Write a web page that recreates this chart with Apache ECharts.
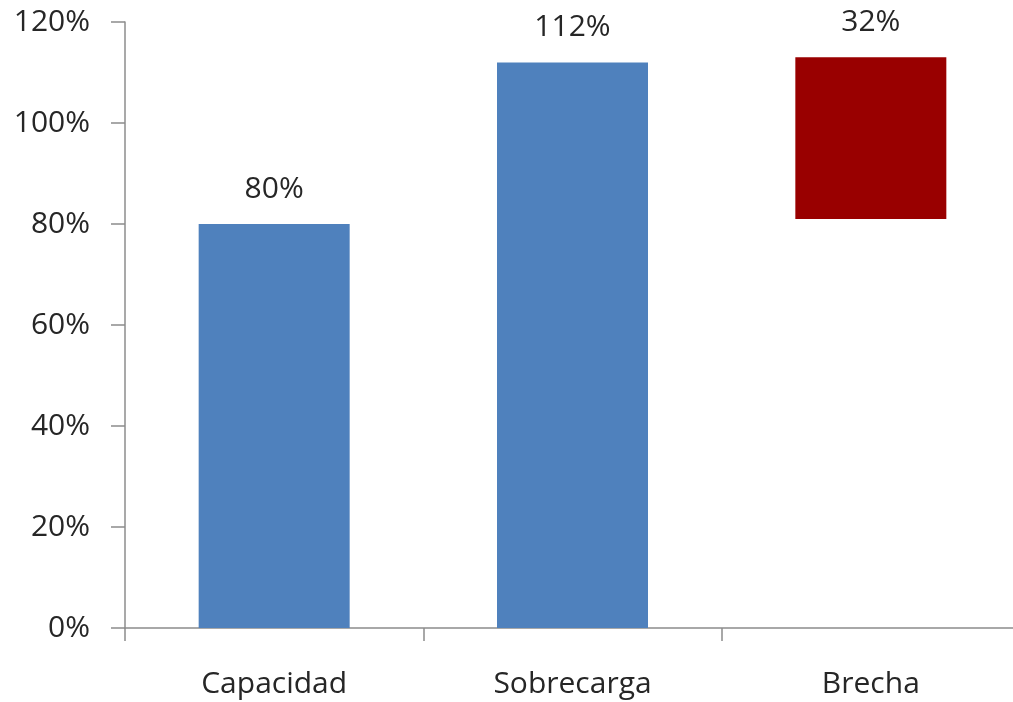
<!DOCTYPE html>
<html>
<head>
<meta charset="utf-8">
<script src="https://cdn.jsdelivr.net/npm/echarts@6/dist/echarts.min.js"></script>
<style>
  html, body { margin: 0; padding: 0; background: #fff; overflow: hidden; }
  /* the last category runs slightly past the right edge of the window */
  #chart { width: 1020px; height: 702px; }
</style>
</head>
<body>
<div id="chart"></div>
<script>
// Categories and values (percent)
const categories = ['Capacidad', 'Sobrecarga', 'Brecha'];
const barValues = [80, 112, 32];
// Invisible offset so the gap bar floats above the capacity level
const baseValues = [0, 0, 81];
const barColors = ['#4F81BD', '#4F81BD', '#990000'];
const yTicks = { min: 0, max: 120, interval: 20 };

const textColor = '#262626';
const fontFamily = '"Open Sans", "Noto Sans", sans-serif';
const axisColor = '#8c8c8c';

const chart = echarts.init(document.getElementById('chart'), null, { renderer: 'canvas' });

chart.setOption({
  animation: false,
  backgroundColor: '#fff',
  grid: { left: 125, top: 22, bottom: 74, right: 0, containLabel: false },
  xAxis: {
    type: 'category',
    data: categories,
    axisLine: { lineStyle: { color: axisColor, width: 1.5 } },
    axisTick: { show: true, length: 13, lineStyle: { color: axisColor, width: 1.5 } },
    axisLabel: { color: textColor, fontSize: 30, fontFamily: fontFamily, margin: 41 }
  },
  yAxis: {
    type: 'value',
    min: yTicks.min,
    max: yTicks.max,
    interval: yTicks.interval,
    splitLine: { show: false },
    axisLine: { show: true, lineStyle: { color: axisColor, width: 1.5 } },
    axisTick: { show: true, length: 14, lineStyle: { color: axisColor, width: 1.5 } },
    axisLabel: {
      color: textColor, fontSize: 30, fontFamily: fontFamily, margin: 35,
      formatter: v => v + '%'
    }
  },
  series: [
    {
      name: 'base',
      type: 'bar',
      stack: 'total',
      data: baseValues,
      barWidth: 151,
      itemStyle: { color: 'transparent' },
      silent: true
    },
    {
      name: 'valor',
      type: 'bar',
      stack: 'total',
      barWidth: 151,
      data: barValues.map((v, i) => ({ value: v, itemStyle: { color: barColors[i] } })),
      label: {
        show: true,
        position: 'top',
        distance: 20,
        color: textColor,
        fontSize: 30,
        fontFamily: fontFamily,
        formatter: p => p.value + '%'
      }
    }
  ]
});
</script>
</body>
</html>
